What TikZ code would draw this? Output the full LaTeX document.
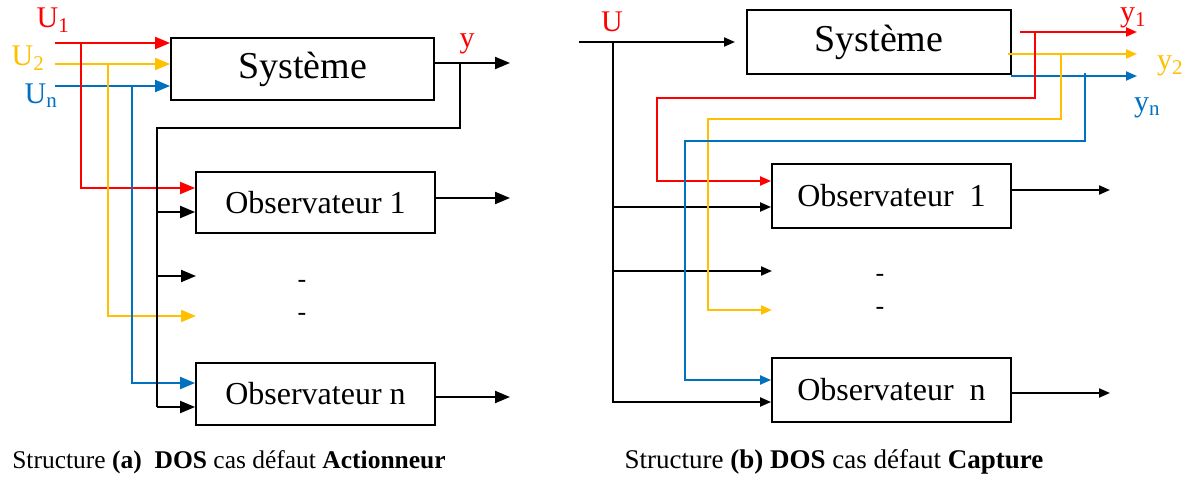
\documentclass[tikz,border=0pt]{standalone}
\usepackage{fontspec}
\setmainfont{Liberation Serif}
\usetikzlibrary{arrows.meta,calc}
\definecolor{cred}{RGB}{255,0,0}
\definecolor{corange}{RGB}{255,192,0}
\definecolor{cblue}{RGB}{0,112,192}
\begin{document}
\begin{tikzpicture}[x=1pt,y=-1pt,
  blk/.style={draw=black,line width=1.8pt,inner sep=0pt,fill=white},
  wire/.style={line width=2pt},
  bigarr/.style={wire,-{Triangle[length=15pt,width=12pt]}},
  smallarr/.style={wire,-{Triangle[length=11pt,width=9pt]}},
  lbl/.style={inner sep=0pt,font=\fontsize{30}{32}\selectfont},
  dashmark/.style={inner sep=0pt,font=\fontsize{26}{28}\selectfont},
  captxt/.style={inner sep=0pt,font=\fontsize{26.5}{28}\selectfont}]
\useasboundingbox (0,0) rectangle (1190,478);

% ---------------- Left diagram (a) ----------------
\node[blk,minimum width=263pt,minimum height=62pt,font=\fontsize{38}{40}\selectfont] (sysA) at (302.5,69) {Système};
\node[blk,minimum width=239pt,minimum height=61pt,font=\fontsize{32}{34}\selectfont] (obsA1) at (315.5,202.5) {Observateur 1};
\node[blk,minimum width=239pt,minimum height=62pt,font=\fontsize{32}{34}\selectfont] (obsAn) at (315.5,394) {Observateur n};

\node[lbl,text=cred] (lu1) at (53,20) {U\textsubscript{1}};
\node[lbl,text=corange] (lu2) at (28,58) {U\textsubscript{2}};
\node[lbl,text=cblue] (lun) at (41,96) {U\textsubscript{n}};
\node[lbl,text=cred] (lyA) at (467,44) {y};

\coordinate (u1) at (55,43);
\coordinate (u2) at (55,64);
\coordinate (u3) at (55,86);
\coordinate (r1) at (81,43);
\coordinate (o1) at (108,64);
\coordinate (b1) at (132,86);
\coordinate (dA2) at (196,316);
\coordinate (dA1) at (196,276);
\coordinate (yA) at (510,63);
\coordinate (fbA) at (460,63);
\coordinate (fbA2) at (157,128);
\coordinate (oA1) at (510,198);
\coordinate (oAn) at (510,397);

\draw[bigarr,cred] (u1) -- (u1 -| sysA.west);
\draw[bigarr,corange] (u2) -- (u2 -| sysA.west);
\draw[bigarr,cblue] (u3) -- (u3 -| sysA.west);
\draw[bigarr,cred] (r1) |- (obsA1.west |- 0,188);
\draw[bigarr,corange] (o1) |- (dA2);
\draw[bigarr,cblue] (b1) |- (obsAn.west |- 0,383);

\draw[bigarr] (sysA.east |- yA) -- (yA);
\draw[wire] (fbA) |- (fbA2) -- (157,407);
\draw[bigarr] (157,212) -- (obsA1.west |- 0,212);
\draw[bigarr] (157,276) -- (dA1);
\draw[bigarr] (157,407) -- (obsAn.west |- 0,407);
\draw[bigarr] (obsA1.east |- oA1) -- (oA1);
\draw[bigarr] (obsAn.east |- oAn) -- (oAn);

\node[dashmark] (dashA1) at (302,284) {-};
\node[dashmark] (dashA2) at (302,317) {-};

\node[captxt,font=\fontsize{25.5}{28}\selectfont] (capA) at (229,462) {Structure \textbf{(a)}\ \ \textbf{DOS} cas défaut \textbf{Actionneur}};

% ---------------- Right diagram (b) ----------------
\node[blk,minimum width=264pt,minimum height=64pt,font=\fontsize{38}{40}\selectfont] (sysB) at (879,42) {Système};
\node[blk,minimum width=239pt,minimum height=64pt,font=\fontsize{32}{34}\selectfont] (obsB1) at (891.5,196) {Observateur\ \ 1};
\node[blk,minimum width=239pt,minimum height=64pt,font=\fontsize{32}{34}\selectfont] (obsBn) at (891.5,390) {Observateur\ \ n};

\node[lbl,text=cred] (lu) at (612,22) {U};
\node[lbl,text=cred] (ly1) at (1133,18) {y\textsubscript{1}};
\node[lbl,text=corange] (ly2) at (1170,66) {y\textsubscript{2}};
\node[lbl,text=cblue] (lyn) at (1147,108) {y\textsubscript{n}};

\coordinate (uB) at (579,42);
\coordinate (uBt) at (735,42);
\coordinate (vB) at (613,42);
\coordinate (dB1) at (772,271);
\coordinate (dB2) at (772,310);
\coordinate (y1s) at (1020,32);
\coordinate (y1e) at (1137,32);
\coordinate (y2s) at (1008,54);
\coordinate (y2e) at (1137,54);
\coordinate (yns) at (1011,76);
\coordinate (yne) at (1137,76);
\coordinate (oB1) at (1110,190);
\coordinate (oBn) at (1110,393);

\draw[smallarr] (uB) -- (uBt);
\draw[wire] (vB) -- (613,403);
\draw[smallarr] (613,207) -- (obsB1.west |- 0,207);
\draw[smallarr] (613,271) -- (dB1);
\draw[smallarr] (613,402) -- (obsBn.west |- 0,402);

\draw[smallarr,cred] (y1s) -- (y1e);
\draw[smallarr,corange] (y2s) -- (y2e);
\draw[smallarr,cblue] (yns) -- (yne);

\draw[smallarr,cred] (1035,32) -- (1035,98) -| (657,181) -- (obsB1.west |- 0,181);
\draw[smallarr,corange] (1061,54) -- (1061,119) -| (708,310) -- (dB2);
\draw[smallarr,cblue] (1085,73) -- (1085,141) -| (685,380) -- (obsBn.west |- 0,380);

\draw[smallarr] (obsB1.east |- oB1) -- (oB1);
\draw[smallarr] (obsBn.east |- oBn) -- (oBn);

\node[dashmark] (dashB1) at (880,278) {-};
\node[dashmark] (dashB2) at (880,311) {-};

\node[captxt,font=\fontsize{27}{28}\selectfont] (capB) at (834,462) {Structure \textbf{(b)} \textbf{DOS} cas défaut \textbf{Capture}};
\end{tikzpicture}
\end{document}
